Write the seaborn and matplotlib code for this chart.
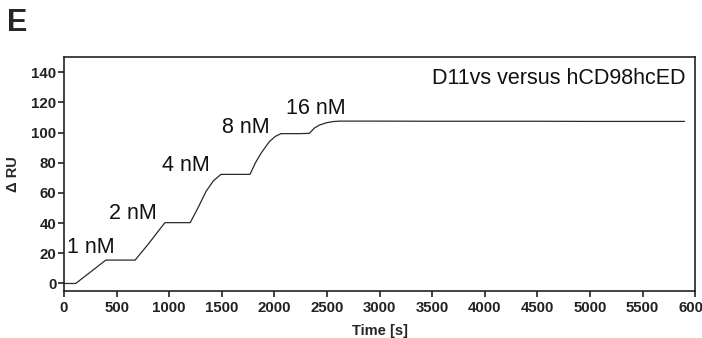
import seaborn as sns
import matplotlib.pyplot as plt
import pandas as pd

# Sensorgram: time [s] and response [RU]
time_s = [0, 60, 111, 250, 397, 500, 600, 676,
          800, 959, 1050, 1120, 1200,
          1280, 1350, 1420, 1492, 1600, 1700, 1768,
          1820, 1873, 1952, 2010, 2063, 2150, 2250, 2333,
          2380, 2429, 2500, 2560, 2620, 3000, 3500, 4000, 4500, 5000, 5500, 5900]
response = [0, 0, 0, 7.5, 15.5, 15.5, 15.5, 15.5,
            26, 40.3, 40.3, 40.3, 40.3,
            51, 61, 68, 72.3, 72.3, 72.3, 72.3,
            80, 86.3, 94, 97.5, 99.3, 99.3, 99.3, 99.5,
            103, 105, 106.6, 107.3, 107.6, 107.6, 107.5, 107.5, 107.5, 107.4, 107.4, 107.4]

conc_labels = ["1 nM", "2 nM", "4 nM", "8 nM", "16 nM"]
label_x = [25, 425, 930, 1500, 2110]
label_y = [24, 46.5, 78, 103.5, 116]

df = pd.DataFrame({"Time": time_s, "RU": response})

sns.set_style("ticks")
plt.rcParams["font.family"] = ["Liberation Sans", "DejaVu Sans"]

fig = plt.figure(figsize=(7.02, 3.38), dpi=100)
ax = fig.add_axes([0.0912, 0.139, 0.899, 0.692])

sns.lineplot(data=df, x="Time", y="RU", ax=ax, color="#2a2a2a", linewidth=0.9)

for lab, lx, ly in zip(conc_labels, label_x, label_y):
    ax.text(lx, ly, lab, fontsize=15.5, ha="left", va="center", color="#111111")

ax.text(0.985, 0.91, "D11vs versus hCD98hcED", transform=ax.transAxes,
        ha="right", va="center", fontsize=15.5, color="#111111")

ax.set_xlim(0, 6000)
ax.set_ylim(-5, 150)
ax.set_xticks(range(0, 6001, 500))
ax.set_xticklabels([str(v) for v in range(0, 6001, 500)])
ax.set_yticks(range(0, 141, 20))
ax.tick_params(axis="both", labelsize=10.8, width=1.2, length=4, color="#222222",
               labelcolor="#222222")
ax.tick_params(axis="y", pad=1.5)
for lbl in ax.get_xticklabels() + ax.get_yticklabels():
    lbl.set_fontweight("bold")

ax.set_xlabel("Time [s]", fontsize=10.5, fontweight="bold", labelpad=6)
ax.set_ylabel("Δ RU", fontsize=10.5, fontweight="bold", labelpad=8)

for side in ["left", "bottom", "top", "right"]:
    ax.spines[side].set_linewidth(1.2)
    ax.spines[side].set_color("#222222")

fig.text(0.01, 0.975, "E", fontsize=22, fontweight="bold", va="top", ha="left")

plt.savefig("out.png", dpi=100)
